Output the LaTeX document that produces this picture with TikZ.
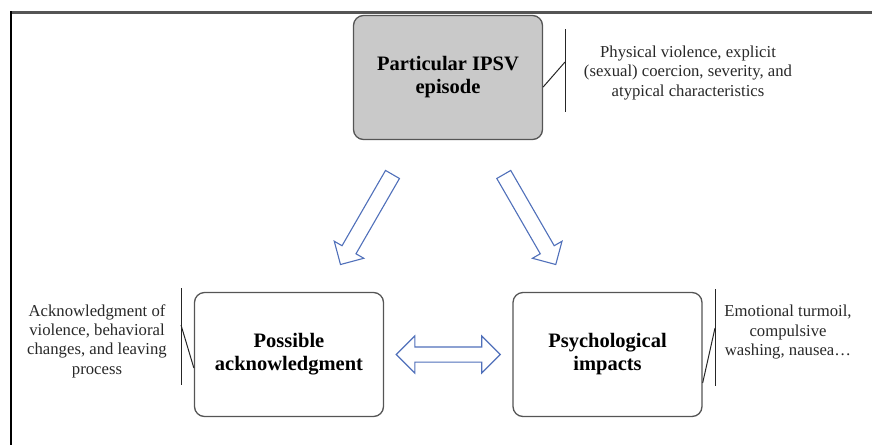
\documentclass[tikz,border=0pt]{standalone}
\usepackage{fontspec}
\setmainfont{Liberation Serif}
\usetikzlibrary{calc,shapes.arrows,positioning}
\definecolor{boxgray}{RGB}{201,201,201}
\definecolor{edgegray}{RGB}{85,85,85}
\definecolor{arrowblue}{RGB}{80,112,186}
\definecolor{notegray}{RGB}{40,40,40}
\tikzset{
  stage/.style={draw=edgegray, line width=1.3pt, rounded corners=10pt, minimum width=189pt, minimum height=124pt, align=center, font=\fontsize{20.5}{23}\selectfont\bfseries},
  note/.style={align=center, text=notegray, inner sep=0pt, font=\fontsize{16.7}{19.3}\selectfont},
  callout/.style={draw=black!85, line width=1pt},
  flowarrow/.style={single arrow, draw=arrowblue, fill=white, line width=1.1pt, inner xsep=0pt, inner ysep=7.5pt, minimum height=104pt, single arrow head extend=9pt},
  linkarrow/.style={double arrow, draw=arrowblue, fill=white, line width=1.1pt, inner xsep=0pt, inner ysep=7pt, minimum height=104pt, double arrow head extend=11pt}
}
\begin{document}
\begin{tikzpicture}[x=1pt,y=-1pt]
    \useasboundingbox (0,0) rectangle (872,445);
    \draw[edgegray, line width=3pt] (10,12) -- (872,12);
    \draw[black, line width=2pt] (11,11) -- (11,445);

    \node[stage, fill=boxgray] (ipsv) at (448,77.5) {Particular IPSV\\episode};
    \node[stage] (ack) at (289,354.5) {Possible\\acknowledgment};
    \node[stage] (psy) at (607.5,354.5) {Psychological\\impacts};

    \node[note] (nipsv) at (688,73) {Physical violence, explicit\\(sexual) coercion, severity, and\\atypical characteristics};
    \node[note] (nack) at (97,341) {Acknowledgment of\\violence, behavioral\\changes, and leaving\\process};
    \node[note] (npsy) at (788,332) {Emotional turmoil,\\compulsive\\washing, nausea…};

    \coordinate (tipsv) at (565,29);
    \coordinate (bipsv) at (565,112);
    \coordinate (kipsv) at (565,62);
    \draw[callout] (tipsv) -- (bipsv);
    \draw[callout] ($(ipsv.east)+(0,9.5)$) -- (kipsv);

    \coordinate (tack) at (181,288);
    \coordinate (back) at (181,385);
    \coordinate (kack) at (181,325);
    \draw[callout] (tack) -- (back);
    \draw[callout] (kack) -- ($(ack.west)+(0,13.5)$);

    \coordinate (tpsy) at (715,289);
    \coordinate (bpsy) at (715,386);
    \coordinate (kpsy) at (715,328);
    \draw[callout] (tpsy) -- (bpsy);
    \draw[callout] ($(psy.east)+(0,28.5)$) -- (kpsy);

    \node[flowarrow, rotate=240] (toack) at ($(ipsv.south)!0.5!(ack.north)$) {};
    \node[flowarrow, rotate=-60] (topsy) at ($(ipsv.south)!0.5!(psy.north)$) {};
    \node[linkarrow] (link) at ($(ack.east)!0.5!(psy.west)$) {};
\end{tikzpicture}
\end{document}
